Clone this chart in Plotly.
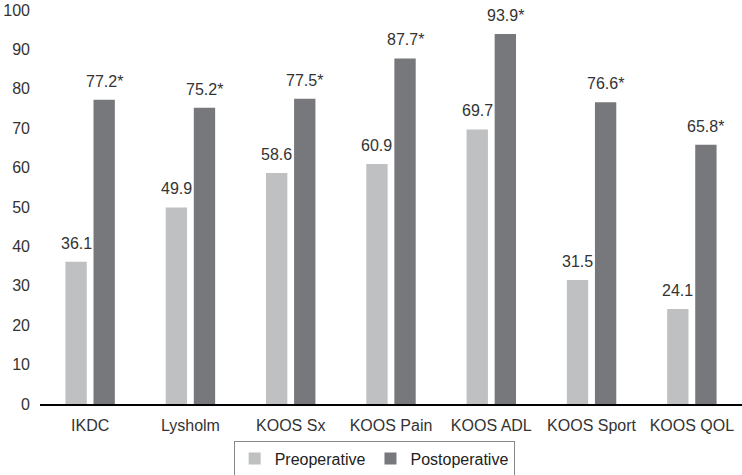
import plotly.graph_objects as go

categories = ["IKDC", "Lysholm", "KOOS Sx", "KOOS Pain", "KOOS ADL", "KOOS Sport", "KOOS QOL"]
preop = [36.1, 49.9, 58.6, 60.9, 69.7, 31.5, 24.1]
postop = [77.2, 75.2, 77.5, 87.7, 93.9, 76.6, 65.8]
preop_labels = [f"{v:.1f}" for v in preop]
postop_labels = [f"{v:.1f}*" for v in postop]
y_ticks = list(range(0, 101, 10))

font_family = "Liberation Sans, Arial, sans-serif"
text_color = "#333333"

fig = go.Figure()
fig.add_trace(go.Bar(
    name="Preoperative", x=categories, y=preop,
    marker_color="#bfc0c2", marker_line_width=0,
))
fig.add_trace(go.Bar(
    name="Postoperative", x=categories, y=postop,
    marker_color="#77787b", marker_line_width=0,
))

# value labels above bars (offset to the bar slot within each group)
slot_px = 702 / 7 * (1 - 0.44) / 2
annotations = []
for cat, v, lab in zip(categories, preop, preop_labels):
    annotations.append(dict(x=cat, y=v, xref="x", yref="y", text=lab, showarrow=False,
                            xshift=-slot_px / 2, yanchor="bottom", yshift=8,
                            font=dict(size=16, color=text_color, family=font_family)))
for cat, v, lab in zip(categories, postop, postop_labels):
    annotations.append(dict(x=cat, y=v, xref="x", yref="y", text=lab, showarrow=False,
                            xshift=slot_px / 2, yanchor="bottom", yshift=8,
                            font=dict(size=16, color=text_color, family=font_family)))

fig.update_layout(
    width=742, height=475,
    margin=dict(l=40, r=0, t=10, b=71, autoexpand=False),
    paper_bgcolor="white", plot_bgcolor="white",
    barmode="group", bargap=0.44, bargroupgap=0.24,
    font=dict(family=font_family, size=16, color=text_color),
    showlegend=True,
    legend=dict(
        orientation="h", x=0.476, xanchor="center", y=-0.093, yanchor="top",
        bordercolor="#888888", borderwidth=1,
        font=dict(size=16, color="#222222"),
        itemwidth=30,
    ),
    annotations=annotations,
)
fig.update_xaxes(
    showline=True, linecolor="black", linewidth=1.5,
    ticks="", showgrid=False, automargin=False,
    tickfont=dict(size=16, color=text_color),
    ticklabelstandoff=6,
)
fig.update_yaxes(
    range=[0, 100], tickvals=y_ticks, ticktext=[str(t) for t in y_ticks],
    showgrid=False, zeroline=False, showline=False, ticks="", automargin=False,
    tickfont=dict(size=16, color=text_color),
    ticklabelstandoff=9,
)

fig.write_html(
    "out.html",
    config={"displayModeBar": False},
    post_script="document.body.style.margin='0';document.body.style.overflow='hidden';",
)
